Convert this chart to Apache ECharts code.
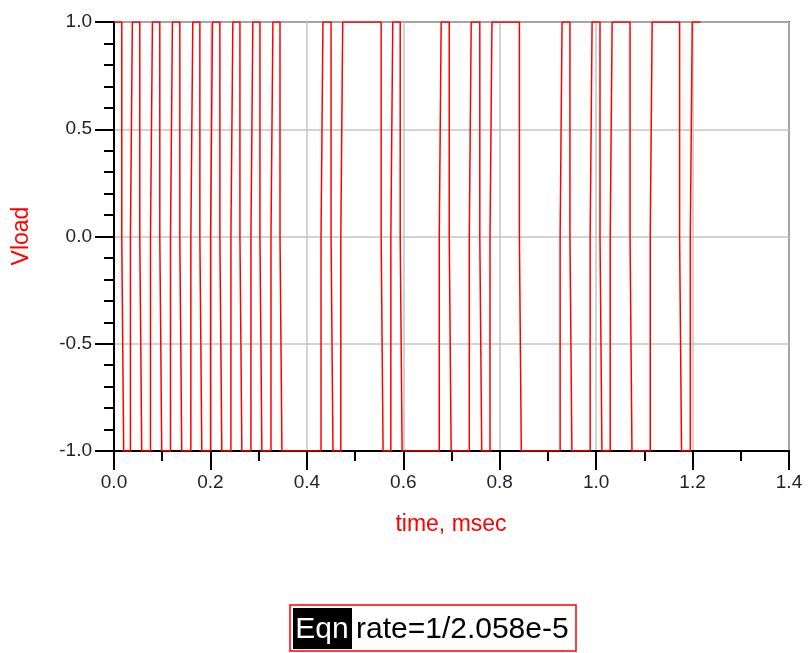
<!DOCTYPE html>
<html>
<head>
<meta charset="utf-8">
<script src="https://cdn.jsdelivr.net/npm/echarts@6/dist/echarts.min.js"></script>
<style>
html,body{margin:0;padding:0;background:#fff;}
#chart{width:808px;height:653px;}
</style>
</head>
<body>
<div id="chart"></div>
<script>
// Transition times (msec) of the Vload square wave
const edgeTimes = [
  0.0181, 0.0361, 0.0555, 0.0777, 0.0970, 0.1192, 0.1385, 0.1614, 0.1801, 0.2023,
  0.2216, 0.2445, 0.2632, 0.2860, 0.3047, 0.3276, 0.3463, 0.4314, 0.4522, 0.4724,
  0.5561, 0.5762, 0.5956, 0.6766, 0.6973, 0.7389, 0.7607, 0.7819, 0.8428, 0.9273,
  0.9477, 0.9896, 1.0100, 1.0312, 1.0723, 1.1142, 1.1751, 1.1973
];
const startTime = 0.0;
const endTime = 1.2167;
const startLevel = 1;
const xTicks = [0.0, 0.2, 0.4, 0.6, 0.8, 1.0, 1.2, 1.4];
const yTicks = [-1.0, -0.5, 0.0, 0.5, 1.0];
const xTitle = 'time, msec';
const yTitle = 'Vload';
const eqnLabel = 'Eqn';
const eqnText = 'rate=1/2.058e-5';

// Step waveform: each transition passes briefly through 0 (drawn with step:'end')
const hop = 0.002;
const wave = [];
let level = startLevel;
wave.push([startTime, level]);
edgeTimes.forEach(t => {
  const next = -level;
  wave.push([t - hop, 0]);
  wave.push([t + hop, next]);
  level = next;
});
wave.push([endTime, level]);

const font = '"Liberation Sans", Arial, sans-serif';
const chart = echarts.init(document.getElementById('chart'), null, {renderer: 'canvas'});
chart.setOption({
  animation: false,
  backgroundColor: '#ffffff',
  grid: {
    left: 114, right: 19, top: 22, bottom: 202,
    show: true, borderColor: '#444', borderWidth: 2, backgroundColor: 'transparent'
  },
  xAxis: {
    type: 'value',
    min: xTicks[0], max: xTicks[xTicks.length - 1], interval: 0.2,
    axisLine: {show: true, onZero: false, lineStyle: {color: '#000', width: 2}},
    axisTick: {show: true, inside: false, length: 19, lineStyle: {color: '#000', width: 2}},
    minorTick: {show: true, splitNumber: 2, length: 10, lineStyle: {color: '#000', width: 2}},
    splitLine: {show: true, lineStyle: {color: '#c4c4c4', width: 1.5}},
    axisLabel: {
      margin: 22, color: '#1e1e30', fontSize: 19, fontFamily: font,
      formatter: v => v.toFixed(1)
    }
  },
  yAxis: {
    type: 'value',
    min: yTicks[0], max: yTicks[yTicks.length - 1], interval: 0.5,
    axisLine: {show: true, onZero: false, lineStyle: {color: '#000', width: 2}},
    axisTick: {show: true, inside: false, length: 19, lineStyle: {color: '#000', width: 2}},
    minorTick: {show: true, splitNumber: 5, length: 10, lineStyle: {color: '#000', width: 2}},
    splitLine: {show: true, lineStyle: {color: '#c4c4c4', width: 1.5}},
    axisLabel: {
      margin: 22, color: '#1e1e30', fontSize: 19, fontFamily: font,
      formatter: v => v.toFixed(1)
    }
  },
  series: [{
    type: 'line',
    data: wave,
    step: 'end',
    showSymbol: false,
    sampling: null,
    lineStyle: {color: '#ff0000', width: 1.5},
    z: 5
  }],
  graphic: [
    {type: 'text', x: 22, y: 236, rotation: Math.PI / 2,
     style: {text: yTitle, fill: '#ff0000', font: '23px ' + font, align: 'center', verticalAlign: 'middle'}},
    {type: 'text', x: 451, y: 525,
     style: {text: xTitle, fill: '#ff0000', font: '23px ' + font, align: 'center', verticalAlign: 'middle'}},
    {type: 'rect', shape: {x: 290, y: 605, width: 286, height: 46},
     style: {fill: 'none', stroke: '#ff0000', lineWidth: 1.5}},
    {type: 'rect', shape: {x: 293, y: 608, width: 59, height: 41},
     style: {fill: '#000000'}},
    {type: 'text', x: 322, y: 630,
     style: {text: eqnLabel, fill: '#ffffff', font: '30px ' + font, align: 'center', verticalAlign: 'middle'}},
    {type: 'text', x: 356, y: 630,
     style: {text: eqnText, fill: '#000000', font: '30px ' + font, align: 'left', verticalAlign: 'middle'}}
  ]
});
</script>
</body>
</html>
